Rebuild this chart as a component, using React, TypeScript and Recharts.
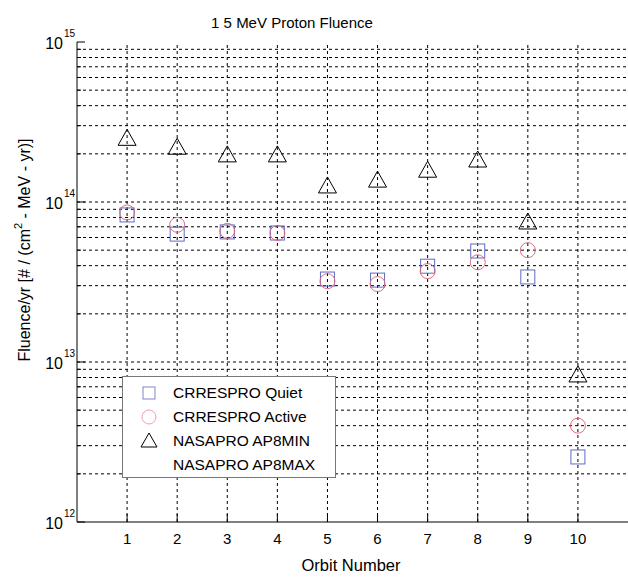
import { ScatterChart, Scatter, XAxis, YAxis, ReferenceLine, Legend } from 'recharts';

// orbit numbers and fluence per orbit for each model
const orbits = [1, 2, 3, 4, 5, 6, 7, 8, 9, 10];
const quiet = [8.3e13, 6.3e13, 6.5e13, 6.4e13, 3.3e13, 3.25e13, 3.97e13, 4.94e13, 3.4e13, 2.55e12];
const active = [8.6e13, 7.2e13, 6.6e13, 6.4e13, 3.2e13, 3.07e13, 3.7e13, 4.2e13, 5.0e13, 4.0e12];
const ap8min = [2.5e14, 2.2e14, 1.97e14, 1.97e14, 1.26e14, 1.37e14, 1.58e14, 1.83e14, 7.5e13, 8.3e12];
const ap8max: number[] = [];
const seriesNames = ['CRRESPRO Quiet', 'CRRESPRO Active', 'NASAPRO AP8MIN', 'NASAPRO AP8MAX'];

const decades = [12, 13, 14];
const yMajor = [1e12, 1e13, 1e14, 1e15];
const yTicks = [...decades.flatMap(d => [1, 2, 3, 4, 5, 6, 7, 8, 9].map(m => m * 10 ** d)), 1e15];
const yGrid = yTicks.filter(v => v > 1e12 && v < 1e15);

const FONT = '"Liberation Sans", Arial, sans-serif';
const GRID = { stroke: '#000', strokeDasharray: '3 3', strokeWidth: 1 };

const toRows = (vals: number[]) => vals.map((v, i) => ({ orbit: orbits[i], value: v }));

// marker shapes (open symbols)
const Square = ({ cx, cy }: any) => (
  <rect x={cx - 7} y={cy - 7} width={14} height={14} fill="none" stroke="#5d6bc4" strokeWidth={1} />
);
const Circle = ({ cx, cy }: any) => (
  <circle cx={cx} cy={cy} r={7.5} fill="none" stroke="#e06c7c" strokeWidth={1} />
);
const Triangle = ({ cx, cy }: any) => (
  <path d={`M${cx},${cy - 9} L${cx + 9},${cy + 7} L${cx - 9},${cy + 7} Z`} fill="none" stroke="#000" strokeWidth={1} />
);

const XTick = ({ x, y, payload }: any) => (
  <g>
    <line x1={x} y1={y} x2={x} y2={y - 8} stroke="#000" />
    <text x={x} y={y + 16} textAnchor="middle" dominantBaseline="central" fontSize={15} fontFamily={FONT} fill="#000">
      {payload.value}
    </text>
  </g>
);

const TopTick = ({ x, y }: any) => <line x1={x} y1={y} x2={x} y2={y + 8} stroke="#000" />;

const YTick = ({ x, y, payload }: any) => {
  const v = payload.value;
  const major = yMajor.some(m => Math.abs(m - v) / m < 1e-6);
  if (!major) return <line x1={x} y1={y} x2={x + 4} y2={y} stroke="#000" />;
  return (
    <g>
      <line x1={x} y1={y} x2={x + 8} y2={y} stroke="#000" />
      <text x={x - 14} y={y + 1} textAnchor="end" dominantBaseline="central" fontSize={16} fontFamily={FONT} fill="#000">
        10
      </text>
      <text x={x - 13} y={y - 9} textAnchor="start" dominantBaseline="central" fontSize={10} fontFamily={FONT} fill="#000">
        {Math.round(Math.log10(v))}
      </text>
    </g>
  );
};

const markerFor: Record<string, () => any> = {
  'CRRESPRO Quiet': () => <rect x={-6} y={-6} width={12} height={12} fill="none" stroke="#7f88c8" />,
  'CRRESPRO Active': () => <circle r={7} fill="none" stroke="#f0a0a8" />,
  'NASAPRO AP8MIN': () => <path d="M0,-8 L8,6 L-8,6 Z" fill="none" stroke="#000" />,
};

// legend keeps the plotting order of the series
const LegendBox = ({ payload }: any) => {
  const items = [...(payload || [])].sort(
    (a: any, b: any) => seriesNames.indexOf(a.value) - seriesNames.indexOf(b.value)
  );
  return (
    <div
      style={{
        width: 214,
        height: 102,
        background: '#fff',
        border: '1px solid #777',
        boxSizing: 'border-box',
        paddingTop: 4,
        fontFamily: FONT,
        fontSize: 15.5,
      }}
    >
      {items.map((p: any) => (
        <div key={p.value} style={{ display: 'flex', alignItems: 'center', height: 24 }}>
          <svg width={50} height={20} style={{ flex: 'none' }}>
            <g transform="translate(26,10)">{markerFor[p.value] ? markerFor[p.value]() : null}</g>
          </svg>
          <span style={{ color: '#000', whiteSpace: 'nowrap' }}>{p.value}</span>
        </div>
      ))}
    </div>
  );
};

export default function App() {
  return (
    <div style={{ position: 'absolute', left: 0, top: 0, width: 628, height: 580, background: '#fff' }}>
      <ScatterChart width={628} height={580} margin={{ top: 42, right: 0, bottom: 0, left: 0 }}>
        <XAxis
          xAxisId={0}
          type="number"
          dataKey="orbit"
          domain={[0, 11]}
          ticks={orbits}
          interval={0}
          height={58}
          tickSize={0}
          tickMargin={0}
          tick={<XTick />}
          axisLine={{ stroke: '#000' }}
          allowDataOverflow
        />
        <XAxis
          xAxisId="top"
          orientation="top"
          type="number"
          domain={[0, 11]}
          ticks={orbits}
          interval={0}
          height={0}
          tickSize={0}
          tickMargin={0}
          tick={<TopTick />}
          axisLine={{ stroke: '#000' }}
        />
        <YAxis
          type="number"
          dataKey="value"
          scale="log"
          domain={[1e12, 1e15]}
          ticks={yTicks}
          interval={0}
          width={77}
          tickSize={0}
          tickMargin={0}
          tick={<YTick />}
          axisLine={{ stroke: '#000' }}
          allowDataOverflow
        />
        {yGrid.map(v => (
          <ReferenceLine key={`h${v}`} y={v} {...GRID} />
        ))}
        {orbits.map(o => (
          <ReferenceLine key={`v${o}`} x={o} {...GRID} />
        ))}
        <Scatter name={seriesNames[0]} data={toRows(quiet)} shape={<Square />} isAnimationActive={false} />
        <Scatter name={seriesNames[1]} data={toRows(active)} shape={<Circle />} isAnimationActive={false} />
        <Scatter name={seriesNames[2]} data={toRows(ap8min)} shape={<Triangle />} isAnimationActive={false} />
        <Scatter name={seriesNames[3]} data={toRows(ap8max)} shape={<Triangle />} isAnimationActive={false} />
        <Legend
          layout="horizontal"
          verticalAlign="middle"
          align="center"
          content={<LegendBox />}
          wrapperStyle={{ position: 'absolute', left: 122, top: 376, width: 214, height: 102 }}
        />
        <text x={292} y={22} textAnchor="middle" dominantBaseline="central" fontSize={15} fontFamily={FONT} fill="#000">
          1 5 MeV Proton Fluence
        </text>
        <text x={351} y={565} textAnchor="middle" dominantBaseline="central" fontSize={16.5} fontFamily={FONT} fill="#000">
          Orbit Number
        </text>
        <text
          x={24}
          y={250}
          transform="rotate(-90 24 250)"
          textAnchor="middle"
          dominantBaseline="central"
          fontSize={16}
          fontFamily={FONT}
          fill="#000"
        >
          Fluence/yr [# / (cm
          <tspan dy={-6} fontSize={11}>2</tspan>
          <tspan dy={6}> - MeV - yr)]</tspan>
        </text>
      </ScatterChart>
    </div>
  );
}
